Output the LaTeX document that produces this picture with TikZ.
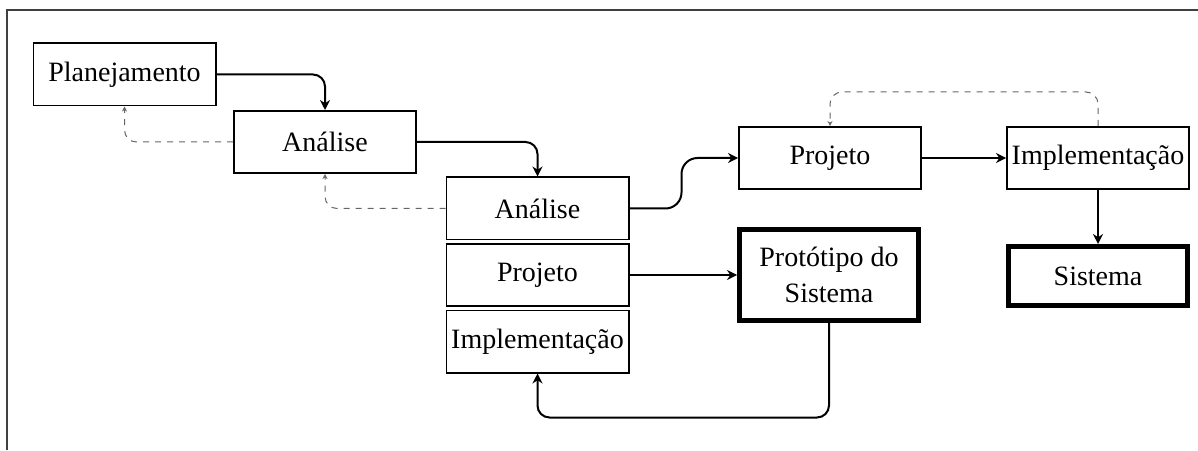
\documentclass[tikz,border=0pt]{standalone}
\usepackage{fontspec}
\setmainfont{Liberation Serif}
\usetikzlibrary{arrows.meta}
\tikzset{
  box/.style={draw, line width=0.8pt, minimum width=91.2pt, minimum height=31.2pt, inner sep=1pt, align=center, font=\fontsize{14}{16}\selectfont},
  result/.style={box, line width=2.5pt, minimum width=89.5pt, minimum height=29.5pt},
  flow/.style={-{Stealth[length=5pt,width=5pt]}, line width=1pt, rounded corners=6pt},
  back/.style={-{Stealth[length=2.5pt,width=2.5pt]}, black!60, dashed, line width=0.5pt, rounded corners=6pt}
}
\begin{document}
\begin{tikzpicture}[x=0.5pt,y=0.5pt]
    \useasboundingbox (0,0) rectangle (1198,450);
    \draw[line width=1pt, black!75] (7,0) -- (7,440) -- (1198,440);
    % first phases
    \node[box] (plan) at (124.5,375.5) {Planejamento};
    \node[box] (ana) at (325,308) {Análise};
    % prototype cycle
    \node[box] (anaB) at (537.5,241.5) {Análise};
    \node[box] (projB) at (537.5,175) {Projeto};
    \node[box] (implB) at (537.5,108.5) {Implementação};
    \node[result, minimum height=45pt, font=\fontsize{14}{18}\selectfont] (proto) at (829,175) {Protótipo do\\Sistema};
    % final system
    \node[box] (proj) at (830,292) {Projeto};
    \node[box] (impl) at (1098,292) {Implementação};
    \node[result] (sis) at (1098,174) {Sistema};
    \draw[flow] (plan) -| (ana);
    \draw[flow] (ana) -| (anaB);
    \draw[back] (ana) -| (plan);
    \draw[back] (anaB) -| (ana);
    \draw[flow, rounded corners=8pt] (anaB.east) -- ++(52,0) |- (proj.west);
    \draw[flow] (proj) -- (impl);
    \draw[back] (impl.north) -- ++(0,34) -| (proj.north);
    \draw[flow] (impl) -- (sis);
    \draw[flow] (projB) -- (proto);
    \draw[flow] (proto.south) -- ++(0,-95) -| (implB.south);
\end{tikzpicture}
\end{document}
